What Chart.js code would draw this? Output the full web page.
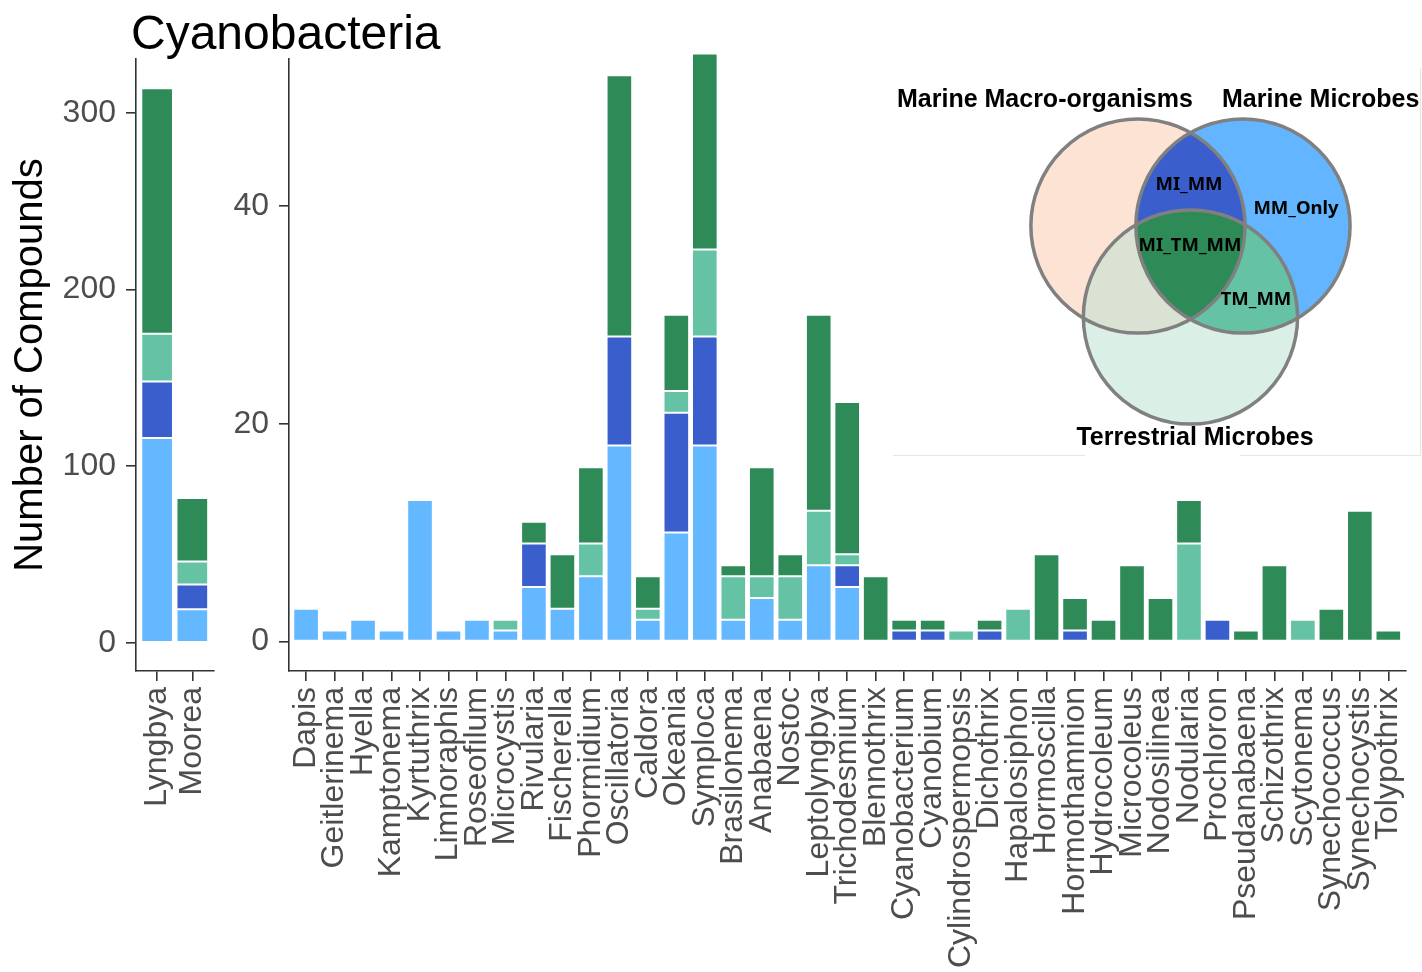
<!DOCTYPE html>
<html>
<head>
<meta charset="utf-8">
<script src="https://cdn.jsdelivr.net/npm/chart.js@4.4.1/dist/chart.umd.min.js"></script>
<style>
  body { margin: 0; background: #fff; overflow: hidden; }
  #wrap { position: relative; width: 1422px; height: 972px; overflow: hidden; }
  canvas { position: absolute; }
  #title { position: absolute; left: 131px; top: 9px; font: 48px 'Liberation Sans', Arial, sans-serif; line-height: 1; color: #000; }
</style>
</head>
<body>
<div id="wrap">
  <canvas id="left-chart" width="240" height="972" style="left:0;top:0"></canvas>
  <canvas id="right-chart" width="1203" height="972" style="left:230px;top:0"></canvas>
  <canvas id="venn-chart" width="529" height="392" style="left:893px;top:68px"></canvas>
  <div id="title">Cyanobacteria</div>
</div>
<script>
// left panel (the two big genera)
const leftGenera = ['Lyngbya', 'Moorea'];
const leftMMOnly = [116, 19];
const leftMIMM = [32, 14];
const leftTMMM = [27, 13];
const leftMITMMM = [139, 36];
const leftTicks = [0, 100, 200, 300];

// right panel
const genera = ['Dapis', 'Geitlerinema', 'Hyella', 'Kamptonema', 'Kyrtuthrix', 'Limnoraphis', 'Roseofilum',
  'Microcystis', 'Rivularia', 'Fischerella', 'Phormidium', 'Oscillatoria', 'Caldora', 'Okeania', 'Symploca',
  'Brasilonema', 'Anabaena', 'Nostoc', 'Leptolyngbya', 'Trichodesmium', 'Blennothrix', 'Cyanobacterium',
  'Cyanobium', 'Cylindrospermopsis', 'Dichothrix', 'Hapalosiphon', 'Hormoscilla', 'Hormothamnion',
  'Hydrocoleum', 'Microcoleus', 'Nodosilinea', 'Nodularia', 'Prochloron', 'Pseudanabaena', 'Schizothrix',
  'Scytonema', 'Synechococcus', 'Synechocystis', 'Tolypothrix'];
const mmOnly = [3, 1, 2, 1, 13, 1, 2, 1, 5, 3, 6, 18, 2, 10, 18, 2, 4, 2, 7, 5,
  0, 0, 0, 0, 0, 0, 0, 0, 0, 0, 0, 0, 0, 0, 0, 0, 0, 0, 0];
const miMM = [0, 0, 0, 0, 0, 0, 0, 0, 4, 0, 0, 10, 0, 11, 10, 0, 0, 0, 0, 2,
  0, 1, 1, 0, 1, 0, 0, 1, 0, 0, 0, 0, 2, 0, 0, 0, 0, 0, 0];
const tmMM = [0, 0, 0, 0, 0, 0, 0, 1, 0, 0, 3, 0, 1, 2, 8, 4, 2, 4, 5, 1,
  0, 0, 0, 1, 0, 3, 0, 0, 0, 0, 0, 9, 0, 0, 0, 2, 0, 0, 0];
const miTMMM = [0, 0, 0, 0, 0, 0, 0, 0, 2, 5, 7, 24, 3, 7, 18, 1, 10, 2, 18, 14,
  6, 1, 1, 0, 1, 0, 8, 3, 2, 7, 4, 4, 0, 1, 7, 0, 3, 12, 1];
const rightTicks = [0, 20, 40];

// venn inset: set names, circle centres (in circle-distance units), region names
const vennSets = ['Marine Macro-organisms', 'Marine Microbes', 'Terrestrial Microbes'];
const vennX = [0, 1, 0.5];
const vennY = [0, 0, -0.867];
const vennR = 1.02;
const vennRegions = ['MI_MM', 'MM_Only', 'MI_TM_MM', 'TM_MM'];

const segNames = ['MM_Only', 'MI_MM', 'TM_MM', 'MI_TM_MM'];
const segColors = ['#63B8FF', '#3A5FCD', '#66C2A5', '#2E8B57'];
const axisCol = '#333333';
const tickCol = '#4d4d4d';

Chart.defaults.font.family = "'Liberation Sans', Arial, sans-serif";

function makeSets(series) {
  return series.map((vals, k) => ({
    label: segNames[k],
    data: vals.map((v, i) => ({ x: i, y: v === 0 ? null : v })),
    backgroundColor: segColors[k],
    borderColor: 'rgba(255,255,255,0.55)',
    borderWidth: 1,
    borderSkipped: false,
    barPercentage: 0.9,
    categoryPercentage: 1,
    clip: false
  }));
}

function panel(labels, yTicks, yMin, yMax, yWidth, padRight, withTitle) {
  return {
    responsive: false,
    animation: false,
    layout: { padding: { top: 59, right: padRight, left: 0, bottom: 0 } },
    plugins: { legend: { display: false }, tooltip: { enabled: false } },
    scales: {
      x: {
        type: 'linear', stacked: true, offset: false, min: -0.6, max: labels.length - 0.4,
        afterBuildTicks: s => { s.ticks = labels.map((g, i) => ({ value: i })); },
        afterFit: s => { s.height = 972 - 671; },
        ticks: {
          autoSkip: false, minRotation: 90, maxRotation: 90, padding: 6,
          color: tickCol, font: { size: 32 },
          callback: v => labels[v]
        },
        grid: { offset: false, drawOnChartArea: false, tickLength: 10, color: axisCol, lineWidth: 1.6 },
        border: { color: axisCol, width: 1.6 }
      },
      y: {
        stacked: true, min: yMin, max: yMax,
        afterBuildTicks: s => { s.ticks = yTicks.map(v => ({ value: v })); },
        afterFit: s => { s.width = yWidth; },
        title: {
          display: withTitle, text: 'Number of Compounds', color: '#000',
          font: { size: 40 }, padding: { top: 7, bottom: 0 }
        },
        ticks: { color: tickCol, font: { size: 32 }, padding: 10 },
        grid: { drawOnChartArea: false, tickLength: 10, color: axisCol, lineWidth: 1.6 },
        border: { color: axisCol, width: 1.6 }
      }
    }
  };
}

new Chart(document.getElementById('left-chart'), {
  type: 'bar',
  data: { datasets: makeSets([leftMMOnly, leftMIMM, leftTMMM, leftMITMMM]) },
  options: panel(leftGenera, leftTicks, -16, 330.6, 136, 12, true)
});

new Chart(document.getElementById('right-chart'), {
  type: 'bar',
  data: { datasets: makeSets([mmOnly, miMM, tmMM, miTMMM]) },
  options: panel(genera, rightTicks, -2.71, 53.49, 59, 18, false)
});

// draws the three circles and their overlaps from the dataset points
const vennPlugin = {
  id: 'venn',
  afterDatasetsDraw(chart) {
    const ctx = chart.ctx;
    const xs = chart.scales.x, ys = chart.scales.y;
    const pts = chart.data.datasets[0].data;
    const r = xs.getPixelForValue(vennR) - xs.getPixelForValue(0);
    const c = pts.map(p => [xs.getPixelForValue(p.x), ys.getPixelForValue(p.y)]);
    const circle = i => { ctx.beginPath(); ctx.arc(c[i][0], c[i][1], r, 0, Math.PI * 2); };
    const fill = (i, col, clips) => {
      ctx.save();
      clips.forEach(k => { circle(k); ctx.clip(); });
      circle(i); ctx.fillStyle = col; ctx.fill();
      ctx.restore();
    };

    // faint frame of the pasted inset
    ctx.save();
    ctx.strokeStyle = '#e6e6e6'; ctx.lineWidth = 1;
    ctx.beginPath();
    ctx.moveTo(0, 387.5); ctx.lineTo(192, 387.5);
    ctx.moveTo(347, 387.5); ctx.lineTo(527.5, 387.5);
    ctx.moveTo(527.5, 0); ctx.lineTo(527.5, 387.5);
    ctx.stroke();
    ctx.restore();

    fill(0, '#FDE3D4', []);
    fill(1, '#62B5FE', []);
    fill(2, '#DAEFE5', []);
    fill(2, '#D9E2D3', [0]);
    fill(1, segColors[1], [0]);
    fill(1, segColors[2], [2]);
    fill(1, segColors[3], [0, 2]);
    ctx.save();
    ctx.strokeStyle = '#808080'; ctx.lineWidth = 3.5;
    [0, 1, 2].forEach(i => { circle(i); ctx.stroke(); });
    ctx.restore();

    ctx.save();
    ctx.fillStyle = '#000';
    ctx.textAlign = 'center';
    ctx.textBaseline = 'middle';
    ctx.font = "bold 25px 'Liberation Sans', Arial, sans-serif";
    const setPos = [[-0.886, 1.2], [1.74, 1.2], [0.543, -2.02]];
    vennSets.forEach((t, i) => ctx.fillText(t, xs.getPixelForValue(setPos[i][0]), ys.getPixelForValue(setPos[i][1])));
    ctx.font = "bold 18.5px 'Noto Sans', sans-serif";
    const regPos = [[0.486, 0.39], [1.505, 0.162], [0.495, -0.19], [1.124, -0.705]];
    vennRegions.forEach((t, i) => ctx.fillText(t, xs.getPixelForValue(regPos[i][0]), ys.getPixelForValue(regPos[i][1])));
    ctx.restore();
  }
};

new Chart(document.getElementById('venn-chart'), {
  type: 'scatter',
  data: { datasets: [{ data: vennX.map((x, i) => ({ x: x, y: vennY[i] })), pointRadius: 0 }] },
  options: {
    responsive: false,
    animation: false,
    layout: { padding: 0 },
    plugins: { legend: { display: false }, tooltip: { enabled: false } },
    scales: {
      x: { display: false, min: -2.333, max: 2.705 },
      y: { display: false, min: -2.229, max: 1.505 }
    }
  },
  plugins: [vennPlugin]
});
</script>
</body>
</html>
